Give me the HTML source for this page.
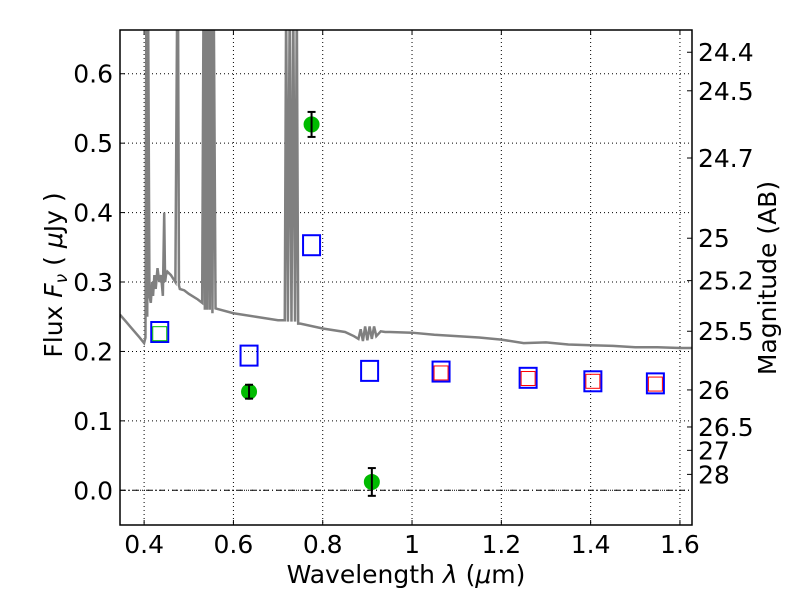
<!DOCTYPE html>
<html><head><meta charset="utf-8"><style>
body{margin:0;background:#fff}
svg text{font-family:"DejaVu Sans","Liberation Sans",sans-serif;fill:#000}
</style></head><body>
<svg id="chart" width="800" height="600" xmlns="http://www.w3.org/2000/svg" style="position:absolute;left:0;top:0">
<defs><clipPath id="pc"><rect x="120" y="30" width="572" height="495"/></clipPath></defs>
<g id="grid"></g>
<g id="spec" clip-path="url(#pc)"></g>
<g id="marks"></g>
<g id="axes"></g>
</svg>
<script>
const xTicks=[0.4,0.6,0.8,1.0,1.2,1.4,1.6];
const xTickLabels=["0.4","0.6","0.8","1","1.2","1.4","1.6"];
const yTicks=[0.0,0.1,0.2,0.3,0.4,0.5,0.6];
const yTickLabels=["0.0","0.1","0.2","0.3","0.4","0.5","0.6"];
const magTicks=[24.4,24.5,24.7,25,25.2,25.5,26,26.5,27,28];
const specWave=[0.346,0.37,0.39,0.4,0.403,0.405,0.407,0.409,0.412,0.415,0.418,0.42,0.423,0.426,0.43,0.434,0.438,0.442,0.445,0.447,0.449,0.452,0.46,0.47,0.474,0.476,0.478,0.48,0.49,0.5,0.52,0.53,0.533,0.536,0.538,0.541,0.544,0.547,0.55,0.553,0.556,0.56,0.6,0.65,0.7,0.715,0.718,0.722,0.726,0.73,0.734,0.738,0.742,0.745,0.75,0.8,0.85,0.87,0.88,0.885,0.89,0.895,0.9,0.905,0.91,0.915,0.92,0.93,0.94,0.95,1.0,1.05,1.1,1.15,1.2,1.25,1.3,1.35,1.4,1.45,1.5,1.55,1.6,1.627];
const specFlux=[0.253,0.235,0.22,0.212,0.22,0.7,0.25,0.7,0.28,0.27,0.3,0.28,0.31,0.29,0.32,0.3,0.31,0.28,0.4,0.3,0.31,0.315,0.31,0.3,0.7,0.7,0.295,0.29,0.288,0.283,0.275,0.27,0.7,0.26,0.7,0.26,0.7,0.26,0.7,0.255,0.7,0.262,0.255,0.25,0.245,0.245,0.7,0.243,0.7,0.243,0.7,0.243,0.7,0.24,0.24,0.233,0.228,0.222,0.218,0.232,0.215,0.236,0.216,0.236,0.218,0.236,0.222,0.229,0.228,0.228,0.227,0.224,0.222,0.22,0.217,0.212,0.213,0.21,0.209,0.208,0.206,0.206,0.205,0.205];
const photWave=[0.635,0.775,0.91];
const photFlux=[0.142,0.527,0.012];
const photErr=[0.01,0.018,0.02];
const modelWave=[0.435,0.635,0.775,0.905,1.065,1.26,1.405,1.545];
const modelFlux=[0.228,0.194,0.353,0.172,0.171,0.162,0.157,0.154];
const redWave=[1.065,1.26,1.405,1.545];
const redFlux=[0.169,0.161,0.157,0.153];
const greenWave=[0.435];
const greenFlux=[0.227];

const L=120,R=692,T=30,B=525,x0=0.346,x1=1.627,y0=-0.05,y1=0.663;
const X=v=>L+(v-x0)/(x1-x0)*(R-L);
const Y=v=>B-(v-y0)/(y1-y0)*(B-T);
const NS="http://www.w3.org/2000/svg";
function mk(p,tag,at){const e=document.createElementNS(NS,tag);for(const k in at)e.setAttribute(k,at[k]);document.getElementById(p).appendChild(e);return e;}

xTicks.forEach((t,i)=>{
 const g=mk('grid','line',{x1:X(t),x2:X(t),y1:T,y2:B,stroke:'#000','stroke-width':1,'stroke-dasharray':'1,3'});
 
 
 mk('axes','line',{x1:X(t),x2:X(t),y1:B,y2:B-5,stroke:'#000'});
 mk('axes','line',{x1:X(t),x2:X(t),y1:T,y2:T+5,stroke:'#000'});
 const tx=mk('axes','text',{x:X(t),y:B+28,'text-anchor':'middle',style:'font-size:25px'});
 tx.textContent=xTickLabels[i];
 
 
});
yTicks.forEach((t,i)=>{
 const g=mk('grid','line',{x1:L,x2:R,y1:Y(t),y2:Y(t),stroke:'#000','stroke-width':1,'stroke-dasharray':'1,3'});
 
 
 mk('axes','line',{x1:L,x2:L+5,y1:Y(t),y2:Y(t),stroke:'#000'});
 const tx=mk('axes','text',{x:L-7,y:Y(t)+9,'text-anchor':'end',style:'font-size:25px'});
 tx.textContent=yTickLabels[i];
 
 
});
magTicks.forEach(m=>{
 const f=Math.pow(10,(23.9-m)/2.5);
 mk('axes','line',{x1:R-5,x2:R,y1:Y(f),y2:Y(f),stroke:'#000'});
 const tx=mk('axes','text',{x:R+6,y:Y(f)+9,style:'font-size:25px'});
 tx.textContent=String(m);
 
 
});
const zl=mk('grid','line',{x1:L,x2:R,y1:Y(0),y2:Y(0),stroke:'#000','stroke-width':1,'stroke-dasharray':'6,3,1,3'});



const sp=mk('spec','polyline',{points:specWave.map((w,i)=>X(w)+','+Y(Math.min(specFlux[i],0.7))).join(' '),fill:'none',stroke:'#808080','stroke-width':2.5});



modelWave.forEach((w,i)=>{
 const r=mk('marks','rect',{x:X(w)-8.5,y:Y(modelFlux[i])-10,width:17,height:20,fill:'none',stroke:'#0000ff','stroke-width':2});
 
 
});
redWave.forEach((w,i)=>{
 const r=mk('marks','rect',{x:X(w)-7,y:Y(redFlux[i])-7,width:14,height:14,fill:'none',stroke:'#ff0000','stroke-width':1});
 
 
});
greenWave.forEach((w,i)=>{
 const r=mk('marks','rect',{x:X(w)-7,y:Y(greenFlux[i])-6,width:14,height:14,fill:'none',stroke:'#00bb00','stroke-width':1});
 
 
});
photWave.forEach((w,i)=>{
 const c=mk('marks','circle',{cx:X(w),cy:Y(photFlux[i]),r:8,fill:'#00bb00'});
 
 
 const a=Y(photFlux[i]+photErr[i]),b=Y(photFlux[i]-photErr[i]);
 mk('marks','line',{x1:X(w),x2:X(w),y1:a,y2:b,stroke:'#000','stroke-width':2});
 mk('marks','line',{x1:X(w)-4,x2:X(w)+4,y1:a,y2:a,stroke:'#000','stroke-width':2});
 mk('marks','line',{x1:X(w)-4,x2:X(w)+4,y1:b,y2:b,stroke:'#000','stroke-width':2});
});
const fr=mk('axes','rect',{x:L,y:T,width:R-L,height:B-T,fill:'none',stroke:'#000','stroke-width':1.5});


</script>
<svg style="position:absolute;left:0;top:0" width="800" height="600">
<text x="406" y="583" text-anchor="middle" style="font-family:'DejaVu Sans',sans-serif;font-size:25px">Wavelength  <tspan font-style="italic">λ</tspan> (<tspan font-style="italic">μ</tspan>m)</text>
<text transform="translate(62,275) rotate(-90)" text-anchor="middle" style="font-family:'DejaVu Sans',sans-serif;font-size:25px">Flux  <tspan font-style="italic">F<tspan style="font-size:17px" dy="5">ν</tspan></tspan><tspan dy="-5">  ( </tspan><tspan font-style="italic">μ</tspan>Jy )</text>
<text transform="translate(776,278) rotate(-90)" text-anchor="middle" style="font-family:'DejaVu Sans',sans-serif;font-size:25px">Magnitude (AB)</text>
</svg>
</body></html>
